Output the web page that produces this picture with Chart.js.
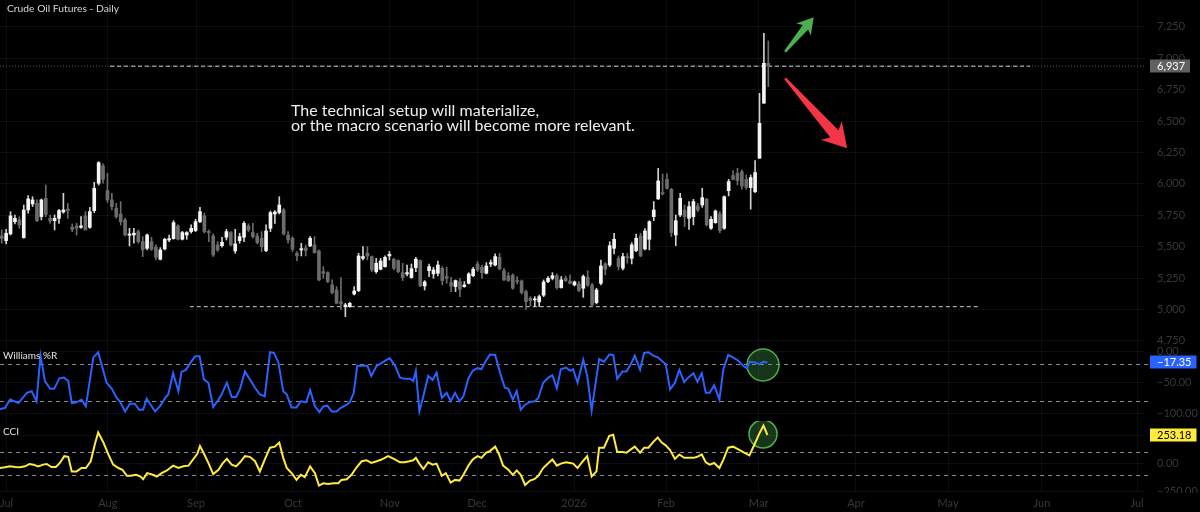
<!DOCTYPE html>
<html lang="en">
<head>
<meta charset="UTF-8">
<title>Crude Oil Futures - Daily</title>
<script src="https://cdn.jsdelivr.net/npm/chart.js"></script>
<style>
  html, body { margin: 0; padding: 0; background: #000; }
  #wrap { position: relative; width: 1200px; height: 512px; overflow: hidden; background: #000; }
  #wrap canvas { position: absolute; left: 0; }
  .lbl { position: absolute; font-family: Lato, sans-serif; white-space: nowrap; }
</style>
</head>
<body>
<div id="wrap">
  <canvas id="priceChart" width="1200" height="346" style="top:0"></canvas>
  <canvas id="wrChart" width="1200" height="75" style="top:346px"></canvas>
  <canvas id="cciChart" width="1200" height="91" style="top:421px"></canvas>
  <div class="lbl" style="left:7px;top:3px;font-size:10.3px;line-height:10px;color:#d6d6d6">Crude Oil Futures - Daily</div>
  <div class="lbl" style="left:291px;top:103px;font-size:16px;line-height:14.6px;color:#eeeeee">The technical setup will materialize,<br>or the macro scenario will become more relevant.</div>
  <div class="lbl" style="left:3px;top:350px;font-size:10px;line-height:10px;color:#e0e0e0">Williams %R</div>
  <div class="lbl" style="left:3px;top:426px;font-size:10px;line-height:10px;color:#e0e0e0">CCI</div>
</div>
<script>
// daily candles (one per trading day)
const opens = [5585,5548,5601,5699,5713,5572,5792,5840,5845,5739,
  5885,5726,5707,5726,5776,5800,5654,5665,5654,5745,
  5654,5787,6005,6143,5946,5872,5806,5760,5713,5591,
  5593,5620,5540,5487,5540,5495,5400,5482,5553,5564,
  5665,5559,5593,5620,5628,5699,5745,5622,5585,5514,
  5508,5575,5612,5466,5548,5575,5665,5612,5585,5567,
  5469,5646,5760,5771,5792,5593,5567,5447,5474,5490,
  5506,5514,5466,5301,5293,5195,5155,5062,5023,5023,
  5123,5150,5407,5447,5421,5301,5320,5341,5426,5400,
  5389,5293,5283,5254,5333,5389,5187,5309,5283,5288,
  5328,5262,5214,5182,5222,5182,5208,5269,5362,5336,
  5288,5362,5354,5415,5309,5267,5272,5230,5227,5142,
  5089,5076,5060,5113,5222,5248,5269,5174,5248,5227,
  5195,5203,5169,5256,5195,5054,5208,5362,5354,5487,
  5407,5328,5421,5407,5469,5585,5482,5559,5739,5880,
  5930,6036,5957,5593,5752,5792,5726,5739,5824,5832,
  5877,5646,5691,5760,5646,5946,6066,6084,6097,6036,
  5970,5938,6204,6642,6960];
const highs = [5633,5638,5779,5752,5739,5832,5906,5898,5872,5880,
  5991,5752,5752,5798,5925,5845,5681,5686,5739,5779,
  5813,6013,6177,6159,6084,5925,5845,5859,5726,5646,
  5646,5633,5580,5601,5575,5514,5492,5567,5593,5707,
  5673,5622,5620,5673,5718,5813,5766,5633,5601,5540,
  5575,5638,5620,5638,5607,5699,5681,5686,5607,5620,
  5673,5784,5787,5898,5806,5620,5580,5461,5527,5514,
  5580,5580,5474,5341,5301,5235,5182,5254,5049,5057,
  5182,5447,5500,5500,5426,5407,5407,5426,5461,5407,
  5394,5368,5354,5362,5415,5394,5230,5362,5336,5386,
  5341,5336,5256,5235,5248,5222,5293,5336,5381,5354,
  5373,5394,5442,5447,5328,5293,5283,5262,5235,5155,
  5102,5102,5115,5235,5262,5293,5283,5262,5267,5275,
  5227,5222,5275,5309,5208,5169,5394,5373,5540,5607,
  5426,5447,5447,5532,5601,5607,5644,5707,5859,6124,
  6079,6079,5965,5752,5925,5832,5859,5877,5845,5965,
  5885,5739,5792,5779,5904,6036,6105,6124,6111,6071,
  6071,6185,6721,7199,7138];
const lows = [5527,5522,5593,5681,5646,5567,5766,5819,5699,5713,
  5739,5686,5633,5686,5766,5726,5620,5593,5646,5633,
  5646,5771,5991,6005,5851,5792,5726,5673,5585,5506,
  5527,5527,5421,5474,5469,5394,5394,5474,5540,5559,
  5553,5553,5559,5607,5620,5691,5607,5540,5421,5461,
  5495,5553,5506,5447,5527,5540,5620,5567,5522,5461,
  5461,5620,5686,5760,5593,5527,5461,5389,5426,5426,
  5500,5447,5230,5248,5214,5123,5044,5001,4943,5017,
  5115,5142,5394,5394,5301,5288,5315,5336,5394,5315,
  5293,5230,5267,5248,5301,5182,5155,5262,5248,5267,
  5195,5208,5142,5142,5102,5177,5203,5262,5301,5248,
  5283,5341,5346,5315,5230,5222,5161,5203,5123,5001,
  5028,5023,5023,5102,5214,5235,5161,5169,5222,5203,
  5187,5142,5097,5182,5028,5044,5195,5275,5341,5442,
  5315,5315,5368,5362,5461,5421,5474,5474,5707,5877,
  5912,5957,5580,5508,5739,5660,5638,5673,5779,5813,
  5665,5638,5686,5612,5638,5904,6031,5991,5957,5957,
  5798,5930,6204,6642,6774];
const closes = [5567,5607,5745,5726,5673,5792,5880,5872,5707,5872,
  5758,5705,5726,5787,5792,5787,5638,5646,5665,5633,
  5779,5965,6169,6036,5872,5819,5739,5699,5593,5601,
  5607,5540,5474,5593,5479,5415,5474,5559,5564,5691,
  5559,5612,5612,5646,5699,5779,5620,5612,5434,5474,
  5535,5620,5514,5522,5580,5686,5633,5580,5532,5500,
  5625,5771,5776,5832,5601,5553,5479,5426,5484,5469,
  5567,5453,5235,5288,5222,5134,5049,5044,5036,5049,
  5147,5426,5421,5426,5315,5368,5386,5415,5439,5328,
  5301,5254,5293,5325,5400,5187,5219,5341,5315,5354,
  5230,5248,5187,5230,5161,5195,5283,5320,5315,5293,
  5346,5373,5421,5323,5235,5230,5169,5222,5134,5062,
  5070,5084,5102,5219,5248,5269,5174,5235,5230,5208,
  5219,5150,5262,5195,5036,5155,5346,5320,5508,5559,
  5341,5421,5413,5514,5567,5426,5625,5699,5792,6023,
  5920,5965,5612,5707,5885,5739,5819,5859,5792,5890,
  5673,5718,5784,5628,5898,6018,6036,6026,5983,5973,
  6050,6090,6482,6960,6937];

// Williams %R, points (x = bar number)
const wrX = [-0.4,0.7,1.9,3.8,5.7,6.8,7.9,8.8,9.8,11.0,
  11.9,13.1,14.1,15.1,15.9,17.0,18.1,19.1,20.8,21.9,
  23.8,25.0,26.1,26.8,28.0,29.1,30.2,31.2,32.1,32.9,
  33.8,34.8,35.9,37.1,37.8,38.9,40.1,40.8,41.8,42.9,
  43.9,44.9,45.9,46.9,48.0,49.2,49.9,51.1,52.2,53.2,
  54.1,55.2,56.3,57.5,58.6,59.7,60.9,61.8,62.8,63.9,
  64.7,65.8,66.9,67.9,69.1,70.0,71.1,72.1,73.0,73.9,
  74.9,76.0,76.9,78.3,79.0,79.9,80.7,82.1,83.0,83.9,
  85.1,86.2,87.4,88.1,89.3,
  90.4,91.5,92.7,93.4,94.0,94.8,95.7,96.8,97.8,98.7,
  99.9,101.0,101.9,102.9,103.9,104.8,105.9,106.9,108.0,108.9,
  109.9,110.8,112.0,113.1,114.2,115.0,116.0,116.9,117.8,118.8,
  119.9,121.0,121.8,122.9,124.1,125.0,126.0,126.9,128.1,129.0,
  129.7,130.7,132.0,132.9,133.9,135.6,136.7,137.9,138.8,139.7,
  140.9,141.8,142.8,143.7,144.9,145.8,146.8,147.9,148.9,149.8,
  150.7,151.7,152.8,153.8,154.9,155.8,157.0,157.9,158.9,159.8,
  160.7,161.7,162.9,163.8,164.9,166.0,167.2,168.3,169.1,169.8,
  171.0,172.0,172.9,173.8];
const wrY = [-92.6,-90.9,-77.3,-82.8,-66.4,-63.7,-80.0,-6.4,-47.3,-59.9,
  -59.9,-42.9,-41.8,-47.3,-82.8,-81.7,-77.3,-88.2,-9.1,-0.9,
  -50.0,-59.9,-74.6,-80.0,-96.4,-83.9,-83.9,-93.7,-93.7,-75.7,
  -85.5,-96.4,-88.2,-74.6,-69.1,-34.8,-63.7,-32.6,-29.3,-17.3,
  -7.5,-7.5,-44.6,-50.0,-89.3,-77.3,-69.1,-50.0,-72.9,-72.9,
  -59.9,-32.0,-44.6,-58.2,-69.1,-71.9,-0.9,-2.0,-17.3,-63.7,
  -69.1,-89.9,-89.9,-80.0,-81.7,-62.0,-88.2,-97.5,-88.2,-87.1,
  -96.4,-96.4,-90.9,-85.5,-81.7,-66.4,-22.8,-22.8,-22.8,-39.1,
  -22.8,-18.4,-12.9,-10.7,-22.8,
  -41.8,-43.5,-43.5,-47.3,-30.9,-96.4,-71.9,-39.1,-45.7,-33.7,
  -74.6,-66.4,-80.0,-66.4,-80.0,-71.9,-43.5,-30.9,-26.6,-28.2,
  -14.6,-4.7,-5.3,-33.7,-58.2,-59.9,-77.3,-63.7,-93.7,-85.5,
  -81.1,-80.0,-74.6,-50.0,-41.8,-38.0,-59.3,-28.2,-25.5,-30.9,
  -28.2,-50.0,-12.9,-39.1,-94.8,-11.8,-16.2,-4.7,-5.3,-43.5,
  -32.0,-32.0,-20.0,-6.4,-29.3,-2.0,-0.9,-6.4,-9.1,-14.6,
  -20.0,-60.9,-50.0,-29.3,-48.9,-41.8,-34.8,-48.4,-34.8,-66.4,
  -66.4,-54.4,-77.3,-28.2,-5.3,-9.1,-14.6,-22.8,-27.1,-16.2,
  -17.3,-20.0,-16.2,-17.35];

// CCI, points
const cciX = [-0.4,0.7,1.9,3.0,4.2,5.3,6.3,7.2,8.3,9.4,
  10.2,11.3,12.3,13.2,14.2,15.1,15.9,17.0,18.1,19.1,
  20.2,21.2,21.9,23.1,24.2,25.3,26.5,27.4,28.4,29.3,
  30.5,31.5,32.1,33.0,34.3,35.2,36.3,37.4,38.9,40.1,
  41.2,42.4,43.3,44.4,45.0,45.8,46.9,48.0,49.2,50.1,
  51.1,52.2,53.2,54.1,55.2,56.3,57.5,58.6,59.7,60.9,
  62.0,63.0,63.9,64.7,66.0,66.9,67.9,68.8,70.0,71.1,
  72.0,73.0,74.1,75.3,76.4,77.1,78.3,79.4,80.6,81.7,
  82.8,83.9,85.1,86.2,87.7,88.9,
  90.4,91.5,92.5,93.4,94.0,94.8,95.7,96.8,97.8,98.7,
  99.9,100.8,101.9,102.9,103.9,104.8,105.9,106.9,108.0,108.9,
  109.9,110.8,112.0,112.9,113.8,115.0,116.0,116.9,117.8,118.8,
  119.9,120.9,121.8,122.9,124.1,125.0,126.0,126.9,128.1,129.0,
  129.7,130.7,131.9,132.9,133.9,135.0,135.6,136.7,137.9,138.8,
  139.7,140.9,141.8,142.8,143.7,144.9,145.8,146.8,147.9,148.9,
  149.8,150.7,151.7,152.8,153.8,154.9,155.8,157.0,157.9,158.9,
  159.8,160.7,161.7,162.9,163.8,164.9,166.0,167.2,168.3,169.7,
  170.7,171.9,172.9,173.8];
const cciY = [-39,-33,-24,-30,-33,-24,-3,-9,-24,-9,
  -3,-30,-30,6,66,60,-69,-69,-39,-39,
  21,180,276,186,81,-9,-39,-54,-108,-108,
  -99,-114,-138,-84,-99,-114,-84,-63,-18,-39,
  -24,-18,30,87,156,96,6,-93,-54,0,
  42,-9,-24,12,66,60,21,-69,36,141,
  150,186,51,-39,-93,-144,-99,-120,-24,-84,
  -195,-174,-180,-174,-174,-144,-138,-99,-30,21,
  30,6,21,36,66,45,
  12,12,21,30,51,0,-48,12,-9,0,
  -108,-84,-168,-144,-150,-99,-18,36,66,51,
  96,111,150,81,-18,-54,-99,-60,-99,-189,
  -150,-138,-108,-39,6,36,-18,0,12,6,
  0,-39,21,66,-114,-69,141,141,246,255,
  102,102,96,126,150,96,141,141,192,231,
  186,162,120,42,81,51,51,51,60,81,
  12,-9,6,-39,36,141,150,126,102,72,
  156,261,336,253.18];

// axis ticks
const monthTickIdx = [1.1, 24.1, 44.1, 66.1, 88.1, 107.9, 129.9, 150.8, 171.8, 193.9, 214.8, 236.1, 257.7];
const monthTickLabels = ['Jul', 'Aug', 'Sep', 'Oct', 'Nov', 'Dec', '2026', 'Feb', 'Mar', 'Apr', 'May', 'Jun', 'Jul'];
const priceTicks = [4750, 5000, 5250, 5500, 5750, 6000, 6250, 6500, 6750, 7000, 7250];
const wrTicks = [0, -50, -100];
const cciTicks = [250, 0, -250];
const wrBands = [-20, -80];
const cciBands = [100, -100];

// horizontal levels drawn on the price pane
const levelPrices = [6937, 5022];
const levelFrom = [24.6, 42.7];
const levelTo = [233.4, 222.0];

// visible ranges
const X_MIN = -0.39, X_MAX = 259.5;
const PRICE_MIN = 4709, PRICE_MAX = 7464;
const WR_MIN = -111.8, WR_MAX = 9.2;
const CCI_MIN = -251, CCI_MAX = 377;

const GRID = 'rgba(255,255,255,0.05)';
const TICK_COLOR = '#383838';
const FONT = 'Lato';

// annotation arrows (bar number, price)
const arrows = [
  { from: [177.8, 7052], to: [184.3, 7326], color: '#4caf50', head: 16, wing: 9.5, neck: 3.5, tail: 1.2 },
  { from: [177.8, 6841], to: [191.9, 6283], color: '#f23645', head: 24, wing: 14, neck: 5.5, tail: 1.2 }
];

const fmt2 = v => (v < 0 ? '\u2212' : '') + Math.abs(v).toFixed(2);

function xAxis(showLabels) {
  return {
    type: 'linear', min: X_MIN, max: X_MAX, offset: false,
    grid: { color: GRID, drawTicks: false, offset: false },
    border: { display: false },
    afterBuildTicks: s => { s.ticks = monthTickIdx.map(v => ({ value: v })); },
    ticks: {
      display: showLabels, autoSkip: false, maxRotation: 0, padding: 5,
      color: TICK_COLOR, font: { family: FONT, size: 11 },
      callback: (v, i) => monthTickLabels[i]
    },
    afterFit: s => { s.height = showLabels ? 20 : 0; s.paddingLeft = 0; s.paddingRight = 0; }
  };
}

function yAxis(min, max, ticks, fmt) {
  return {
    position: 'right', min: min, max: max,
    grid: { color: GRID, drawTicks: false },
    border: { display: false },
    afterBuildTicks: s => { s.ticks = ticks.map(v => ({ value: v })); },
    ticks: { padding: 12, color: TICK_COLOR, font: { family: FONT, size: 11 }, callback: fmt },
    afterFit: s => { s.width = 55; s.paddingTop = 0; s.paddingBottom = 0; }
  };
}

function drawValueBox(chart, value, text, bg, fg) {
  const { ctx, chartArea } = chart;
  const y = Math.round(chart.scales.y.getPixelForValue(value));
  ctx.save();
  ctx.font = '11px ' + FONT;
  const w = ctx.measureText(text).width + 12;
  ctx.fillStyle = bg;
  ctx.fillRect(chartArea.right + 5, y - 6.5, w, 13);
  ctx.fillStyle = fg;
  ctx.textAlign = 'left';
  ctx.textBaseline = 'middle';
  ctx.fillText(text, chartArea.right + 12, y + 0.5);
  ctx.restore();
}

function drawArrow(ctx, x0, y0, x1, y1, a) {
  const len = Math.hypot(x1 - x0, y1 - y0);
  const ux = (x1 - x0) / len, uy = (y1 - y0) / len;
  const nx = -uy, ny = ux;
  const bx = x1 - ux * a.head, by = y1 - uy * a.head;
  const kx = x1 - ux * a.head * 0.8, ky = y1 - uy * a.head * 0.8;
  ctx.beginPath();
  ctx.moveTo(x0 + nx * a.tail, y0 + ny * a.tail);
  ctx.lineTo(kx + nx * a.neck, ky + ny * a.neck);
  ctx.lineTo(bx + nx * a.wing, by + ny * a.wing);
  ctx.lineTo(x1, y1);
  ctx.lineTo(bx - nx * a.wing, by - ny * a.wing);
  ctx.lineTo(kx - nx * a.neck, ky - ny * a.neck);
  ctx.lineTo(x0 - nx * a.tail, y0 - ny * a.tail);
  ctx.closePath();
  ctx.fillStyle = a.color;
  ctx.fill();
}

function dashedBands(chart, bands) {
  const { ctx, chartArea } = chart;
  ctx.save();
  ctx.strokeStyle = '#8c8c8c';
  ctx.lineWidth = 1;
  ctx.setLineDash([4, 4]);
  bands.forEach(b => {
    const y = Math.round(chart.scales.y.getPixelForValue(b)) + 0.5;
    ctx.beginPath();
    ctx.moveTo(chartArea.left, y);
    ctx.lineTo(chartArea.right + 3, y);
    ctx.stroke();
  });
  ctx.restore();
}

function highlight(chart, xv, yv, r) {
  const { ctx } = chart;
  const x = chart.scales.x.getPixelForValue(xv), y = chart.scales.y.getPixelForValue(yv);
  ctx.save();
  ctx.beginPath();
  ctx.arc(x, y, r, 0, Math.PI * 2);
  ctx.fillStyle = 'rgba(76,175,80,0.3)';
  ctx.fill();
  ctx.strokeStyle = '#4caf50';
  ctx.lineWidth = 1.5;
  ctx.stroke();
  ctx.restore();
}

const common = {
  responsive: false, animation: false, events: [],
  layout: { padding: 0 },
  plugins: { legend: { display: false }, tooltip: { enabled: false } }
};

// ---- price pane ----
const bars = opens.map((_, i) => i);
const isUp = i => closes[i] >= opens[i];
const last = closes.length - 1;

new Chart(document.getElementById('priceChart'), {
  type: 'bar',
  data: {
    datasets: [
      {
        data: bars.map(i => ({ x: i, y: [Math.min(opens[i], closes[i]), Math.max(opens[i], closes[i])] })),
        backgroundColor: c => isUp(c.dataIndex) ? '#f4f4f4' : '#6c6c6c',
        barThickness: 3, minBarLength: 1, grouped: false, borderWidth: 0, order: 0
      },
      {
        data: bars.map(i => ({ x: i, y: [lows[i], highs[i]] })),
        backgroundColor: c => isUp(c.dataIndex) ? '#d0d0d0' : '#6c6c6c',
        barThickness: 1, grouped: false, borderWidth: 0, order: 1
      },
      {
        type: 'line', order: 3,
        data: [{ x: X_MIN, y: closes[last] }, { x: X_MAX, y: closes[last] }],
        borderColor: '#5a5a5a', borderWidth: 1, borderDash: [1, 2], pointRadius: 0
      },
      ...levelPrices.map((p, k) => ({
        type: 'line', order: 2,
        data: [{ x: levelFrom[k], y: p }, { x: levelTo[k], y: p }],
        borderColor: '#cfcfcf', borderWidth: 1, borderDash: [4, 3], pointRadius: 0
      }))
    ]
  },
  options: {
    ...common,
    scales: {
      x: xAxis(false),
      y: yAxis(PRICE_MIN, PRICE_MAX, priceTicks, v => v.toLocaleString('en-US'))
    }
  },
  plugins: [{
    id: 'priceExtras',
    afterDatasetsDraw(chart) {
      const xs = chart.scales.x, ys = chart.scales.y;
      arrows.forEach(a => drawArrow(chart.ctx,
        xs.getPixelForValue(a.from[0]), ys.getPixelForValue(a.from[1]),
        xs.getPixelForValue(a.to[0]), ys.getPixelForValue(a.to[1]), a));
    },
    afterDraw(chart) {
      drawValueBox(chart, closes[last], closes[last].toLocaleString('en-US'), '#616161', '#ffffff');
    }
  }]
});

// ---- Williams %R pane ----
new Chart(document.getElementById('wrChart'), {
  type: 'line',
  data: {
    datasets: [{
      data: wrX.map((x, i) => ({ x: x, y: wrY[i] })),
      borderColor: '#2962ff', borderWidth: 2, pointRadius: 0, tension: 0
    }]
  },
  options: {
    ...common,
    scales: { x: xAxis(false), y: yAxis(WR_MIN, WR_MAX, wrTicks, fmt2) }
  },
  plugins: [{
    id: 'wrExtras',
    beforeDatasetsDraw(chart) {
      dashedBands(chart, wrBands);
      highlight(chart, 172.8, -21.5, 16);
    },
    afterDraw(chart) {
      const v = wrY[wrY.length - 1];
      drawValueBox(chart, v, fmt2(v), '#2962ff', '#ffffff');
    }
  }]
});

// ---- CCI pane ----
new Chart(document.getElementById('cciChart'), {
  type: 'line',
  data: {
    datasets: [{
      data: cciX.map((x, i) => ({ x: x, y: cciY[i] })),
      borderColor: '#ffeb3b', borderWidth: 2, pointRadius: 0, tension: 0
    }]
  },
  options: {
    ...common,
    scales: { x: xAxis(true), y: yAxis(CCI_MIN, CCI_MAX, cciTicks, fmt2) }
  },
  plugins: [{
    id: 'cciExtras',
    beforeDatasetsDraw(chart) {
      dashedBands(chart, cciBands);
      highlight(chart, 172.8, 262, 14);
    },
    afterDraw(chart) {
      const { ctx, chartArea } = chart;
      // the price scale is cut at the bottom of the pane
      ctx.save();
      ctx.fillStyle = '#000';
      ctx.fillRect(chartArea.right + 2, chartArea.bottom + 1, 60, 30);
      ctx.restore();
      const v = cciY[cciY.length - 1];
      drawValueBox(chart, v, fmt2(v), '#ffeb3b', '#000000');
    }
  }]
});
</script>
</body>
</html>
